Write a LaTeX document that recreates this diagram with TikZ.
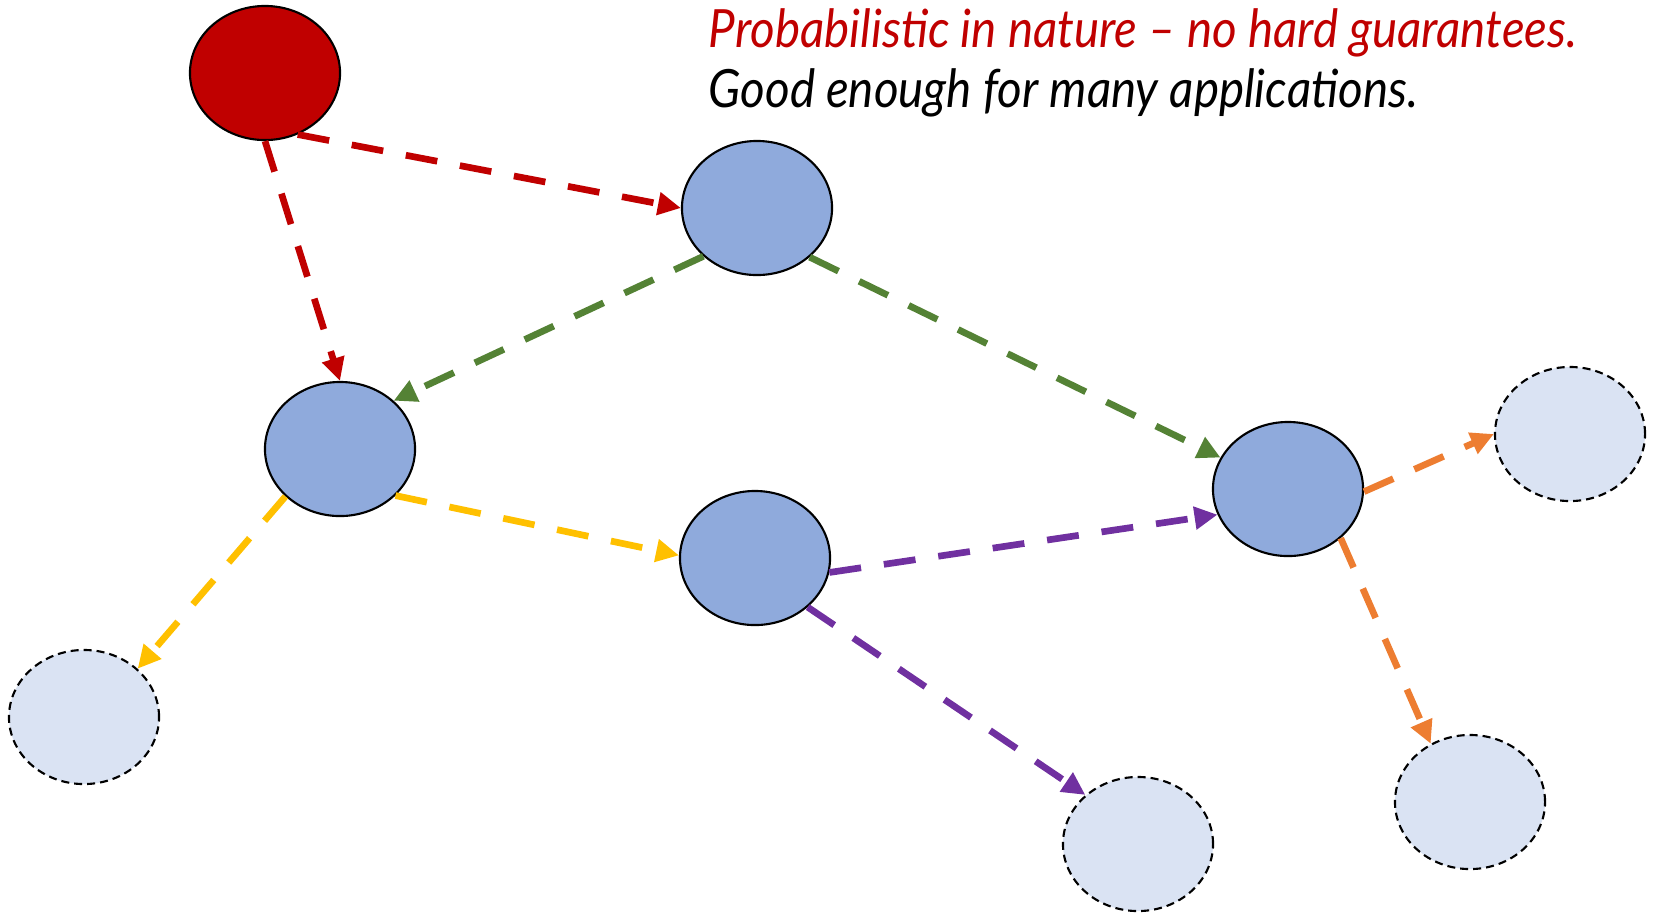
\documentclass[tikz,border=0pt]{standalone}
\usepackage{fontspec}
\setmainfont{Lato}
\usepackage{tikz}
\usetikzlibrary{arrows.meta,shapes.geometric}
\definecolor{srcred}{HTML}{C00000}
\definecolor{peerblue}{HTML}{8FAADC}
\definecolor{ghostblue}{HTML}{DAE3F3}
\definecolor{hopgreen}{HTML}{548235}
\definecolor{hopyellow}{HTML}{FFC000}
\definecolor{hoppurple}{HTML}{7030A0}
\definecolor{hoporange}{HTML}{ED7D31}

\begin{document}
\begin{tikzpicture}[x=0.01cm,y=-0.01cm,
    peer/.style={ellipse,draw=black,line width=0.6pt,fill=peerblue,
      minimum width=1.5cm,minimum height=1.34cm,inner sep=0pt},
    source/.style={peer,fill=srcred},
    ghost/.style={peer,fill=ghostblue,dash pattern=on 0.08cm off 0.05cm},
    gossip/.style={line width=1.9pt,dash pattern=on 0.32cm off 0.23cm,
      -{Triangle[length=0.23cm,width=0.22cm]}},
    caption/.style={anchor=base west,inner sep=0pt,
      font=\fontsize{15}{18}\selectfont\itshape}]
  \useasboundingbox (0,0) rectangle (1655,914);
  \node[source] (src) at (265,73) {};
  \node[peer] (top) at (757,208) {};
  \node[peer] (left) at (340,449) {};
  \node[peer] (mid) at (755,558) {};
  \node[peer] (right) at (1288,489) {};
  \node[ghost] (far) at (1570,434) {};
  \node[ghost] (bl) at (84,717) {};
  \node[ghost] (bm) at (1138,844) {};
  \node[ghost] (br) at (1470,802) {};
  % first round from the source
  \draw[gossip,srcred] (src.-62) -- (top.west);
  \draw[gossip,srcred] (src.south) -- (left.north);
  % forwarded copies
  \draw[gossip,hopgreen] (top.-138) -- (left.42);
  \draw[gossip,hopgreen] (top.-43) -- (right.155);
  \draw[gossip,hopyellow] (left.-40) -- (mid.178);
  \draw[gossip,hopyellow] (left.-139) -- (bl.42);
  \draw[gossip,hoppurple] (mid.-11) -- (right.-160);
  \draw[gossip,hoppurple] (mid.-43) -- (bm.137);
  \draw[gossip,hoporange] (right.-2) -- (far.west);
  \draw[gossip,hoporange] (right.-43) -- (br.124);
  \node[caption,srcred] (claim) at (708,47)
    {\scalebox{0.9}[1]{Probabilistic in nature -- no hard guarantees.}};
  \node[caption] (remark) at (708,107)
    {\scalebox{0.9}[1]{Good enough for many applications.}};
\end{tikzpicture}
\end{document}
